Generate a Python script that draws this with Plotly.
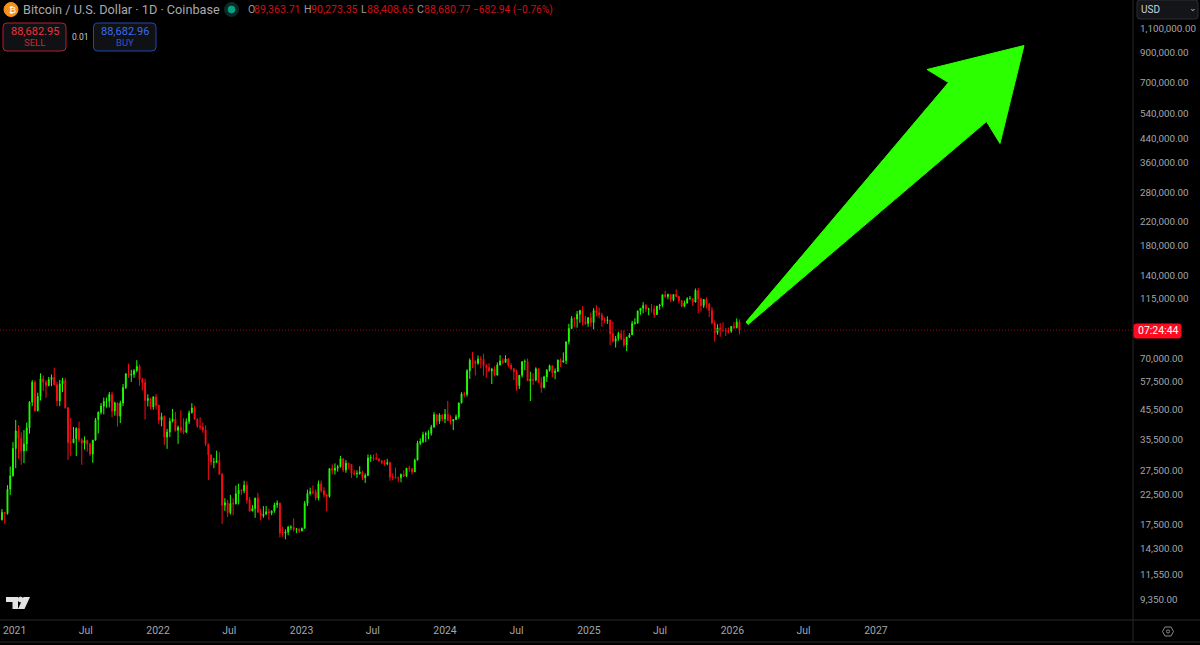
import pandas as pd
import plotly.graph_objects as go

# Weekly OHLC
start_week = "2020-11-23"
opens = [18400,18200,19360,19170,23480,26270,33000,38200,36000,32300,34300,39200,48600,57400,45200,51000,59000,57400,55800,58700,59800,56200,49100,56600,58200,46400,34700,34600,35800,39000,35500,34500,35300,34250,31500,35400,42000,44600,47000,48900,49000,51800,45100,48300,43200,48200,54900,61500,60900,61300,63200,65500,58700,57200,49300,50100,46700,50800,
47300,41800,43100,36300,37900,41400,42200,38400,39400,38400,37800,41300,44500,46300,42200,39700,39500,38500,34300,31300,29400,29450,29800,26600,20550,21000,19300,20850,20800,22600,23300,23170,24300,21500,19600,19990,21800,19400,18800,19050,19450,19270,19570,20630,20920,16300,16280,16430,17100,17100,16800,16840,
16600,16950,20870,22700,23000,22900,21800,24600,23200,22400,22100,27900,27500,28000,28300,30300,27600,29200,28900,26900,26750,26800,27100,25850,26350,30500,30600,30300,30250,29800,29300,29050,29300,26050,26000,25850,25850,26550,26250,28000,27900,27150,29950,34500,35000,37050,37350,37450,39450,43800,41400,43700,
42250,43950,41800,41550,42050,43000,48300,52100,51750,63100,68900,68400,67200,69600,69400,65700,64950,63100,64000,60900,66250,68500,67750,69650,66200,64250,62700,55850,60800,68150,68250,58100,58700,58450,64200,57300,54850,59950,63350,65850,62050,62900,69000,67900,68750,80400,89850,97700,97200,101200,104500,95200,93750,
98350,94500,104400,102600,100650,96450,96150,96550,86100,80700,82600,86100,82400,78350,83700,85200,93750,94300,104100,106400,109000,105650,105700,105600,100900,108350,109200,119100,117300,119450,114200,119300,117450,113500,108250,111150,115250,115300,112100,123500,115100,108650,114550,110550,104700,94200,86800,90400,88200,88200,88100,87800,
91400,90500,95000]
highs = [19400,19920,19420,24300,28400,34800,41900,40100,37800,38500,41000,49000,58400,58300,52600,61800,60700,58400,60000,61200,64800,57500,58500,59500,59600,46600,42600,39500,39400,41300,36000,36500,35500,34700,34500,42600,45000,48200,50500,50500,52900,53000,48800,48300,49200,56600,62000,67000,63700,64000,69000,66400,59500,59100,51900,50200,51000,52100,
47600,44500,43500,38900,42600,45900,44800,40000,45400,42500,42400,45300,48200,47200,42400,42900,41000,40000,34300,31400,30500,32400,32000,26900,21800,21500,22400,21800,24200,24600,23500,25200,25100,22000,20600,21900,22800,19950,20400,20400,19950,19700,21000,21400,21000,17200,16800,17300,17400,18400,17000,16950,
17050,21300,23400,23800,24250,23450,25250,25250,23900,22600,28000,28900,29150,28800,31000,30400,30000,29250,29000,27650,27500,28450,27400,26800,31400,31300,31400,31850,30350,29950,30000,30250,29650,26850,28150,26100,26800,27500,27500,28600,27950,30300,35200,35950,37950,38000,38400,40200,44700,43800,44300,43800,
45900,49100,43600,42200,43850,48200,52800,52950,64000,70000,73800,68900,71750,71300,72800,66800,67250,64750,65500,67700,71950,70000,71950,70200,67300,64500,63800,59500,66100,69400,70000,62700,61800,65000,64500,59800,60600,64100,66500,66000,64400,69400,70000,73600,80300,93450,99700,98900,104000,105000,108300,99800,98900,
102700,106500,109300,107000,102500,98800,99500,96550,95000,84500,87450,88800,88500,83500,86500,95800,97900,104300,106650,112000,110400,106800,110400,108900,108500,110500,119000,123200,120200,119800,119500,124500,117600,113650,113400,116700,117900,115400,125500,126200,116000,113900,116400,110800,107500,96000,93100,94100,94600,90300,90500,90900,
94800,97800,97000]
lows = [16200,18100,17600,19000,22400,26100,28000,30300,28800,29200,32300,37400,47000,44900,45000,49300,53300,50400,55500,55500,59000,47000,47000,52900,46000,30000,31000,34600,31000,34800,28800,32700,32100,31000,29300,35200,37400,43800,43900,46400,46500,42800,43400,39600,40800,47000,54200,59600,57600,59500,62300,55700,53600,42000,46900,45800,45600,45700,
40500,39700,34000,32900,36300,41000,38000,34300,37600,37200,37600,40500,44200,41900,39200,38600,37600,33700,25400,28700,28000,29300,26700,17600,19600,18600,19000,18900,20700,20700,22400,22700,20800,19500,19500,18500,19300,18100,18500,19050,18200,18900,19300,20100,15700,15800,15460,16000,16700,16500,16300,16300,
16500,16900,20400,22300,22500,21400,21400,22800,21900,19550,21900,26600,26550,27200,28200,27100,26950,27700,25800,26350,25850,26500,25350,24750,26250,29500,29750,29950,29500,28900,28600,28700,25200,25350,25650,24900,24900,26000,26000,27150,26550,27100,29900,33950,34550,34800,35650,36750,39300,40200,40550,41400,
40750,41500,40300,38500,41800,42300,48100,50600,50900,59000,64550,60750,66400,64500,60700,59600,62400,56500,60200,60700,66050,66700,67600,65000,63400,58400,53500,54250,59650,63400,58450,49050,56100,57800,57200,52550,54600,57500,62650,59800,58900,62500,65050,67500,66800,78700,89400,90800,90500,94200,92200,92600,91200,
91200,89250,99500,97800,91200,94100,93400,78250,80000,76600,81100,81600,77100,74450,83000,85100,92800,93400,100700,102000,103100,100400,102600,98200,100900,105100,107500,115700,114700,112000,112700,117200,110700,107300,107300,110600,114700,108700,111600,102000,103500,106700,106300,98900,93000,80600,85300,83800,87700,84400,86400,86700,
89300,90000,85500]
closes = [18200,19360,19170,23480,26270,33000,38200,36000,32300,34300,39200,48600,57400,45200,51000,59000,57400,55800,58700,59800,56200,49100,56600,58200,46400,34700,34600,35800,39000,35500,34500,35300,34250,31500,35400,42000,44600,47000,48900,49000,51800,45100,48300,43200,48200,54900,61500,60900,61300,63200,65500,58700,57200,49300,50100,46700,50800,47300,
41800,43100,36300,37900,41400,42200,38400,39400,38400,37800,41300,44500,46300,42200,39700,39500,38500,34300,31300,29400,29450,29800,26600,20550,21000,19300,20850,20800,22600,23300,23170,24300,21500,19600,19990,21800,19400,18800,19050,19450,19270,19570,20630,20920,16300,16280,16430,17100,17100,16800,16840,16600,
16950,20870,22700,23000,22900,21800,24600,23200,22400,22100,27900,27500,28000,28300,30300,27600,29200,28900,26900,26750,26800,27100,25850,26350,30500,30600,30300,30250,29800,29300,29050,29300,26050,26000,25850,25850,26550,26250,28000,27900,27150,29950,34500,35000,37050,37350,37450,39450,43800,41400,43700,42250,
43950,41800,41550,42050,43000,48300,52100,51750,63100,68900,68400,67200,69600,69400,65700,64950,63100,64000,60900,66250,68500,67750,69650,66200,64250,62700,55850,60800,68150,68250,58100,58700,58450,64200,57300,54850,59950,63350,65850,62050,62900,69000,67900,68750,80400,89850,97700,97200,101200,104500,95200,93750,98350,
94500,104400,102600,100650,96450,96150,96550,86100,80700,82600,86100,82400,78350,83700,85200,93750,94300,104100,106400,109000,105650,105700,105600,100900,108350,109200,119100,117300,119450,114200,119300,117450,113500,108250,111150,115250,115300,112100,123500,115100,108650,114550,110550,104700,94200,86800,90400,88200,88200,88100,87800,91400,
90500,95000,88680.77]

last_price = 88680.77
price_ticks = [1100000,900000,700000,540000,440000,360000,280000,220000,180000,140000,115000,70000,57500,45500,35500,27500,22500,17500,14300,11550,9350]
time_ticks = ["2021-01-01","2021-07-01","2022-01-01","2022-07-01","2023-01-01","2023-07-01","2024-01-01","2024-07-01","2025-01-01","2025-07-01","2026-01-01","2026-07-01","2027-01-01"]
time_labels = ["2021","Jul","2022","Jul","2023","Jul","2024","Jul","2025","Jul","2026","Jul","2027"]

n = min(len(opens), len(highs), len(lows), len(closes))
dates = pd.date_range(start_week, periods=n, freq="7D")
FONT = "Roboto, 'Liberation Sans', sans-serif"
W, H = 1200, 645
PR, PB = 1133, 620

fig = go.Figure(go.Candlestick(
    x=dates, open=opens[:n], high=highs[:n], low=lows[:n], close=closes[:n],
    increasing=dict(line=dict(color="#1eff00", width=1), fillcolor="#1eff00"),
    decreasing=dict(line=dict(color="#ff0a12", width=1), fillcolor="#ff0a12"),
    whiskerwidth=0, showlegend=False, hoverinfo="skip"))

# paper coordinates are relative to the plot area
def px(x): return x / PR
def py(y): return 1 - y / PB
shapes, ann = [], []

def paper_path(pts, **kw):
    d = "M" + " L".join(f"{px(x):.5f},{py(y):.5f}" for x, y in pts) + " Z"
    shapes.append(dict(type="path", path=d, xref="paper", yref="paper", layer="above", **kw))

def rrect(x0, y0, x1, y1, r, fill, line, lw=1):
    d = (f"M{px(x0+r):.5f},{py(y0):.5f} L{px(x1-r):.5f},{py(y0):.5f} Q{px(x1):.5f},{py(y0):.5f} {px(x1):.5f},{py(y0+r):.5f} "
         f"L{px(x1):.5f},{py(y1-r):.5f} Q{px(x1):.5f},{py(y1):.5f} {px(x1-r):.5f},{py(y1):.5f} "
         f"L{px(x0+r):.5f},{py(y1):.5f} Q{px(x0):.5f},{py(y1):.5f} {px(x0):.5f},{py(y1-r):.5f} "
         f"L{px(x0):.5f},{py(y0+r):.5f} Q{px(x0):.5f},{py(y0):.5f} {px(x0+r):.5f},{py(y0):.5f} Z")
    shapes.append(dict(type="path", path=d, xref="paper", yref="paper", layer="above",
                       fillcolor=fill, line=dict(color=line, width=lw)))

def circle(cx, cy, r, fill, line=None, lw=1):
    shapes.append(dict(type="circle", xref="paper", yref="paper", layer="above",
                       x0=px(cx-r), x1=px(cx+r), y0=py(cy+r), y1=py(cy-r), fillcolor=fill,
                       line=dict(color=line or fill, width=lw)))

def text(x, y, s, color, size=11, anchor="left"):
    ann.append(dict(x=px(x), y=py(y), xref="paper", yref="paper", text=s, showarrow=False,
                    xanchor=anchor, yanchor="middle", borderpad=0, font=dict(color=color, size=size, family=FONT)))

# price line
shapes.append(dict(type="line", xref="paper", yref="y", x0=0, x1=1, y0=last_price, y1=last_price,
                   line=dict(color="#8f0c14", width=1, dash="1px,2px")))
# arrow
paper_path([(746,322),(948.5,82.5),(927,69.5),(1024,45.5),(1000,143.5),(986.5,121.5),(748,324.5)],
           fillcolor="#2cff00", line=dict(color="#2cff00", width=1))
# frame lines
for x0, y0, x1, y1, c in [(PR,0,PR,642,"#26282c"),(0,620,1200,620,"#26282c"),(0,642,1200,642,"#26282c")]:
    shapes.append(dict(type="line", xref="paper", yref="paper", x0=px(x0), x1=px(x1), y0=py(y0), y1=py(y1),
                       layer="above", line=dict(color=c, width=1)))
# header
circle(11, 9.5, 7, "#f7931a")
text(8, 9.5, "₿", "#ffffff", 9.5)
text(21.5, 9.5, "Bitcoin / U.S. Dollar · 1D · Coinbase", "#a8a9ac", 12.7)
circle(231.5, 9.5, 7, "#0c2b27")
circle(231.5, 9.5, 3.4, "#0aa083")
x_items = [(247,"O","#9a9a9a"),(253,"89,363.71","#d20f16"),(303,"H","#9a9a9a"),(310,"90,273.35","#d20f16"),(360,"L","#9a9a9a"),(366,"88,408.65","#d20f16"),(416,"C","#9a9a9a"),(422.5,"88,680.77","#d20f16")]
for x, s, c in x_items:
    text(x, 9.5, s, c, 10.6)
text(472, 9.5, "−682.94 (−0.76%)", "#d20f16", 10.2)
rrect(3, 23, 66, 51, 4, "#101114", "#b5202c")
rrect(93.5, 23, 156, 51, 4, "#101114", "#1f49b0")
text(34.5, 31, "88,682.95", "#f0313c", 11, "center")
text(34.5, 43, "SELL", "#d8202a", 9.5, "center")
text(125, 31, "88,682.96", "#3a6cf0", 11, "center")
text(125, 43, "BUY", "#2c56c8", 9.5, "center")
text(80, 37, "0.01", "#c8c8c8", 8.5, "center")
# USD
rrect(1137, 0, 1198, 19, 3, "#141518", "#2c2e33")
text(1140, 9.5, "USD", "#cfd3da", 10)
text(1193, 8, "⌄", "#b0b0b0", 9, "center")
# countdown tag
rrect(1134, 324, 1181, 338, 2, "#ff0a1e", "#ff0a1e")
text(1158, 331, "07:24:44", "#ffffff", 10.5, "center")
# TradingView mark
paper_path([(6,597),(18,597),(18,609),(12.5,609),(12.5,602),(6,602)], fillcolor="#e4e4e4", line=dict(width=0))
circle(20.5, 599.5, 2.4, "#e4e4e4")
paper_path([(23.5,597),(30,597),(24.5,609),(18,609)], fillcolor="#e4e4e4", line=dict(width=0))
# settings icon
paper_path([(1162.5,631.5),(1165,627),(1171,627),(1173.5,631.5),(1171,636),(1165,636)],
           fillcolor="rgba(0,0,0,0)", line=dict(color="#8a8c90", width=1))
circle(1168, 631.5, 1.6, "rgba(0,0,0,0)", "#8a8c90")

fig.update_layout(
    width=W, height=H, autosize=False, margin=dict(l=0, r=W-PR, t=0, b=H-PB, pad=0),
    paper_bgcolor="#000000", plot_bgcolor="#000000", showlegend=False, boxgap=0.55,
    shapes=shapes, annotations=ann, dragmode=False,
    font=dict(family=FONT, color="#a3a6ab", size=11),
    xaxis=dict(type="date", range=["2020-11-25","2028-10-16"], showgrid=False, zeroline=False, automargin=False,
               rangeslider=dict(visible=False), tickmode="array", tickvals=time_ticks, ticktext=time_labels,
               ticks="outside", ticklen=1, tickcolor="rgba(0,0,0,0)", tickfont=dict(size=10.4, color="#a3a6ab"), showline=False),
    yaxis=dict(type="log", side="right", range=[3.8967, 6.1447], showgrid=False, zeroline=False, automargin=False,
               tickmode="array", tickvals=price_ticks, ticktext=[f"{v:,.2f}" for v in price_ticks],
               ticks="outside", ticklen=4, tickcolor="rgba(0,0,0,0)", tickfont=dict(size=9.8, color="#a3a6ab"), showline=False),
)
fig.write_html("out.html", config=dict(displayModeBar=False),
               post_script="document.documentElement.style.overflow='hidden';document.body.style.margin='0';document.body.style.background='#000';")
